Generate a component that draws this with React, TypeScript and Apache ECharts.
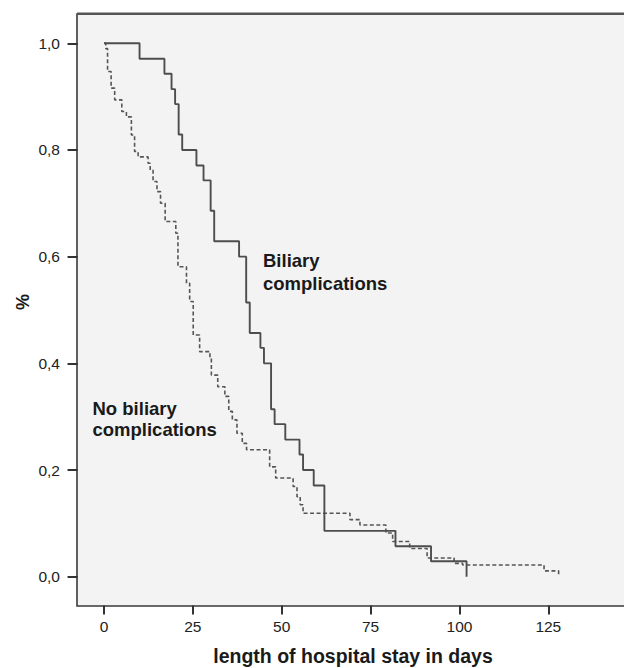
import React, { useEffect, useRef } from "react";
import * as echarts from "echarts";

// Kaplan-Meier style step data
const biliaryDays = [0, 10, 17, 19, 20, 21, 22, 26, 28, 30, 31, 38, 40, 41, 44, 45, 47, 48, 51, 55, 56, 59, 62, 82, 92, 102];
const biliarySurv = [1.0, 0.971, 0.943, 0.914, 0.886, 0.829, 0.8, 0.771, 0.743, 0.686, 0.629, 0.6, 0.514, 0.457, 0.429, 0.4, 0.314, 0.286, 0.257, 0.229, 0.2, 0.171, 0.086, 0.057, 0.029, 0.0];

const noBiliaryDays = [0, 0.5, 1, 2, 3, 5, 6.3, 7.7, 8.6, 9.6, 12.4, 13, 13.8, 14.9, 15.9, 17.2, 20.2, 20.8, 23.2, 24.1, 25.1, 26.9, 29.8, 30.2, 32, 34, 35.1, 36.1, 37.4, 38.9, 40.1, 46.6, 48.3, 53.2, 54.3, 55.2, 56, 69.2, 72, 79.3, 81.2, 86, 90.9, 98.5, 100.9, 123.8, 127.9];
const noBiliarySurv = [1.0, 0.99, 0.947, 0.916, 0.894, 0.872, 0.862, 0.828, 0.797, 0.787, 0.775, 0.762, 0.741, 0.722, 0.7, 0.666, 0.644, 0.581, 0.55, 0.516, 0.453, 0.422, 0.41, 0.378, 0.356, 0.338, 0.31, 0.294, 0.269, 0.25, 0.238, 0.206, 0.185, 0.169, 0.15, 0.135, 0.119, 0.107, 0.097, 0.082, 0.066, 0.053, 0.035, 0.025, 0.022, 0.011, 0.003];

const xTicks = [0, 25, 50, 75, 100, 125];
const yTicks = [0, 0.2, 0.4, 0.6, 0.8, 1.0];

const xTitle = "length of hospital stay in days";
const yTitle = "%";
const labelBiliary = ["Biliary", "complications"];
const labelNoBiliary = ["No biliary", "complications"];

const FONT = "'Liberation Sans', Arial, Helvetica, sans-serif";

const X_MIN = -7.6;
const X_MAX = 147.7;
const Y_MIN = -0.0549;
const Y_MAX = 1.0549;

export default function App() {
  const ref = useRef<HTMLDivElement>(null);

  useEffect(() => {
    if (!ref.current) return;
    const chart = echarts.init(ref.current, null, { renderer: "svg" });
    const pair = (xs: number[], ys: number[]) => xs.map((x, i) => [x, ys[i]]);

    const annotation = (lines: string[], x: number, ys: number[]) =>
      lines.map((t, i) => ({
        type: "text",
        x,
        y: ys[i],
        style: {
          text: t,
          font: `bold 18.5px ${FONT}`,
          fill: "#1a1a1a",
          textAlign: "left",
          textVerticalAlign: "middle",
        },
        z: 10,
      }));

    chart.setOption({
      animation: false,
      backgroundColor: "#ffffff",
      grid: {
        left: 77,
        top: 14,
        right: -5,
        bottom: 62,
        outerBoundsMode: "none",
        containLabel: false,
        show: true,
        backgroundColor: "#f3f3f3",
        borderColor: "#3a3a3a",
        borderWidth: 1.6,
      },
      xAxis: [
        {
          type: "value",
          min: X_MIN,
          max: X_MAX,
          name: xTitle,
          nameLocation: "middle",
          nameGap: 40,
          nameMoveOverlap: false,
          nameTextStyle: { fontFamily: FONT, fontWeight: "bold", fontSize: 19.5, color: "#1a1a1a" },
          // ticks ride on the zero of a helper axis placed at the frame edge
          axisLine: { show: false, onZero: true, onZeroAxisIndex: 1 },
          splitLine: { show: false },
          axisTick: { show: true, length: 9, customValues: xTicks, lineStyle: { color: "#333", width: 2 } },
          axisLabel: {
            customValues: xTicks,
            margin: 12.5,
            fontFamily: FONT,
            fontSize: 15.5,
            color: "#222",
            formatter: (v: number) => String(v),
          },
        },
        {
          type: "value",
          show: false,
          min: -0.001,
          max: 1,
          position: "top",
          axisLine: { show: false, onZero: false },
        },
      ],
      yAxis: [
        {
          type: "value",
          min: Y_MIN,
          max: Y_MAX,
          name: yTitle,
          nameLocation: "middle",
          nameRotate: 90,
          nameGap: 45,
          nameMoveOverlap: false,
          nameTextStyle: { fontFamily: FONT, fontWeight: "bold", fontSize: 18, color: "#1a1a1a", padding: [0, 0, 0, 16] },
          axisLine: { show: false, onZero: true, onZeroAxisIndex: 1 },
          splitLine: { show: false },
          axisTick: { show: true, length: 10, customValues: yTicks, lineStyle: { color: "#333", width: 2 } },
          axisLabel: {
            customValues: yTicks,
            margin: 17,
            fontFamily: FONT,
            fontSize: 15.5,
            color: "#222",
            formatter: (v: number) => v.toFixed(1).replace(".", ","),
          },
        },
        {
          type: "value",
          show: false,
          min: -0.001,
          max: 1,
          position: "right",
          axisLine: { show: false, onZero: false },
        },
      ],
      graphic: [
        {
          type: "line",
          shape: { x1: 77, y1: 13.8, x2: 630, y2: 13.8 },
          style: { stroke: "#555", lineWidth: 2.6 },
          z: 20,
        },
        ...annotation(labelBiliary, 263, [260.6, 283.4]),
        ...annotation(labelNoBiliary, 92.5, [408, 429]),
      ],
      series: [
        {
          name: "No biliary complications",
          type: "line",
          step: "end",
          xAxisIndex: 0,
          yAxisIndex: 0,
          data: pair(noBiliaryDays, noBiliarySurv),
          showSymbol: false,
          symbol: "none",
          lineStyle: { color: "#555", width: 1.6, type: [4, 2.5] },
          z: 3,
        },
        {
          name: "Biliary complications",
          type: "line",
          step: "end",
          xAxisIndex: 0,
          yAxisIndex: 0,
          data: pair(biliaryDays, biliarySurv),
          showSymbol: false,
          symbol: "none",
          lineStyle: { color: "#4d4d4d", width: 1.9 },
          z: 4,
        },
      ],
    });

    return () => chart.dispose();
  }, []);

  return (
    <div
      ref={ref}
      style={{ position: "absolute", left: 0, top: 0, width: 624, height: 668 }}
    />
  );
}
